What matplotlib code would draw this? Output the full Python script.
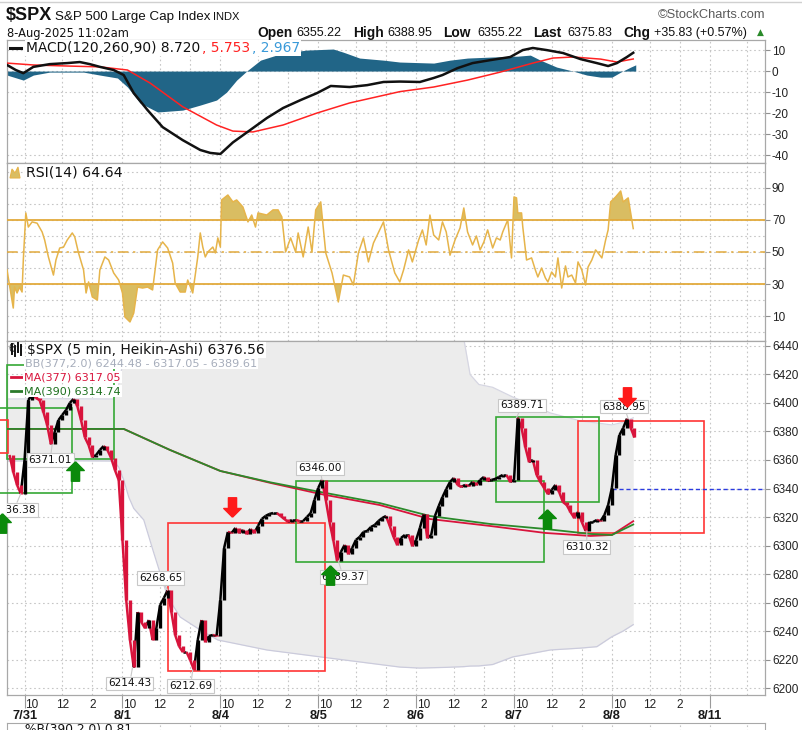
import matplotlib
matplotlib.use("Agg")
import matplotlib.pyplot as plt
from matplotlib.collections import LineCollection
from matplotlib.patches import Rectangle, Polygon
from matplotlib.lines import Line2D
import matplotlib.transforms as mtransforms
import numpy as np

plt.rcParams['font.family'] = ['Liberation Sans', 'DejaVu Sans']
plt.rcParams['axes.unicode_minus'] = False

# ---- time axis: 5 min bars, 78 per session, 0 = 7/31 9:30 ----
BARS = 78
day_labels = ["7/31", "8/1", "8/4", "8/5", "8/6", "8/7", "8/8", "8/11"]
hour_labels = ["10", "12", "2"]
hour_bars = [6, 30, 54]
grid_bars = [0, 30, 54]
X_LEFT, X_RIGHT = -14, 590

# ---- Heikin-Ashi closes, sampled every 15 min (3 bars) per session ----
c_0730 = [6363.5, 6351.6, 6342.5, 6336.4]
c_0731 = [6360.0, 6402.1, 6406.0, 6403.5, 6402.0, 6393.7, 6384.6, 6371.0, 6379.6,
          6388.0, 6391.6, 6395.0, 6400.0, 6402.8, 6397.9, 6388.0, 6376.0, 6370.5,
          6362.0, 6363.5, 6367.0, 6369.8, 6367.0, 6361.4, 6353.0, 6346.0]
c_0801 = [6303.9, 6261.8, 6233.7, 6214.4, 6253.3, 6246.3, 6242.0, 6247.7, 6233.7,
          6242.0, 6258.2, 6263.2, 6268.6, 6253.3, 6237.2, 6229.5, 6225.3, 6225.3,
          6219.6, 6212.7, 6233.7, 6247.7, 6232.3, 6236.5, 6237.2, 6236.5]
c_0804 = [6261.8, 6298.2, 6309.5, 6308.8, 6312.3, 6308.8, 6310.9, 6308.1, 6311.6,
          6308.8, 6313.7, 6318.6, 6320.7, 6322.1, 6322.8, 6322.8, 6320.7, 6318.6,
          6316.5, 6317.9, 6317.9, 6317.2, 6317.2, 6320.0, 6322.8, 6332.0]
c_0805 = [6340.4, 6346.0, 6332.0, 6316.5, 6303.9, 6289.4, 6295.4, 6300.4, 6294.0,
          6298.2, 6303.9, 6306.0, 6309.5, 6310.2, 6313.0, 6314.4, 6317.2, 6319.3,
          6320.7, 6313.7, 6306.0, 6300.4, 6305.3, 6307.4, 6307.4, 6299.6]
c_0806 = [6303.9, 6312.3, 6322.1, 6305.3, 6307.4, 6320.7, 6327.7, 6334.0, 6339.6,
          6344.6, 6347.4, 6342.5, 6341.1, 6342.5, 6341.8, 6344.6, 6342.5, 6346.0,
          6348.1, 6345.3, 6346.0, 6346.7, 6348.1, 6349.5, 6349.5, 6344.6]
c_0807 = [6346.0, 6389.7, 6382.5, 6369.1, 6358.6, 6360.0, 6349.5, 6344.6, 6340.4,
          6336.1, 6339.0, 6342.5, 6337.5, 6330.5, 6328.4, 6323.5, 6319.3, 6323.5,
          6316.5, 6310.3, 6316.5, 6316.5, 6317.9, 6317.2, 6321.4, 6328.4]
c_0808 = [6340.4, 6363.5, 6377.5, 6382.5, 6389.0, 6382.5, 6375.8]
session_day = [-1, 0, 1, 2, 3, 4, 5, 6]
session_first_slot = [22, 0, 0, 0, 0, 0, 0, 0]

# ---- moving averages ----
ma_x = [-14, 28, 79, 116, 156, 196, 236, 283, 323, 371, 415, 451, 468, 485]
ma377 = [6381.8, 6381.8, 6381.8, 6367.0, 6352.3, 6343.9, 6336.1, 6328.4, 6318.6,
         6313.7, 6308.8, 6306.7, 6307.4, 6317.05]
ma390 = [6381.8, 6381.8, 6381.8, 6367.0, 6352.3, 6344.3, 6337.5, 6329.8, 6320.7,
         6315.1, 6311.6, 6308.1, 6307.4, 6314.74]

# ---- Bollinger band (377, 2.0) ----
bb_x = [-14, 28, 71, 75, 79, 83, 87, 95, 103, 114, 124, 140, 154, 193, 236, 299,
        315, 336, 350, 355, 362, 373, 389, 419, 443, 456, 468, 477, 485]
bb_up = [6402.8, 6403.0, 6402.8, 6412.6, 6432.0, 6455.0, 6470.0, 6480.0, 6485.0,
         6490.0, 6490.0, 6490.0, 6490.0, 6490.0, 6490.0, 6490.0, 6490.0, 6480.0,
         6445.0, 6420.0, 6413.0, 6411.0, 6404.2, 6393.0, 6387.4, 6386.0, 6384.6,
         6386.5, 6389.61]
bb_lo = [6359.3, 6359.5, 6359.3, 6355.0, 6346.0, 6334.0, 6326.0, 6317.9, 6294.7,
         6263.9, 6249.8, 6240.7, 6233.7, 6226.7, 6221.8, 6214.7, 6214.0, 6214.5,
         6215.0, 6215.4, 6215.5, 6216.5, 6221.8, 6226.7, 6228.0, 6229.0, 6236.0,
         6240.0, 6244.48]

# ---- MACD(120,260,90) ----
macd_x = [-14, -7, -1, 7, 20, 34, 44, 52, 60, 71, 79, 87, 98, 110, 126, 140, 148,
          156, 166, 180, 193, 206, 220, 233, 244, 259, 273, 286, 299, 315, 326,
          333, 345, 357, 371, 387, 397, 405, 416, 429, 443, 456, 465, 472, 480, 485]
macd_v = [2.9, 0.5, -1.0, 2.0, 3.3, 3.8, 4.3, 3.3, 2.0, 0.5, -1.9, -10.5, -18.6,
          -26.7, -32.9, -37.6, -39.0, -39.5, -34.0, -28.0, -22.4, -17.6, -13.8,
          -10.5, -7.1, -7.6, -6.7, -5.2, -5.0, -5.2, -3.3, -1.9, 1.4, 3.8, 5.2,
          6.7, 10.0, 11.0, 10.0, 8.6, 5.7, 3.8, 2.4, 3.8, 6.7, 8.72]
sig_x = [-14, 7, 34, 60, 82, 100, 126, 153, 166, 182, 206, 233, 259, 299, 326,
         353, 379, 405, 421, 437, 459, 472, 485]
sig_v = [3.8, 2.9, 2.4, 2.0, 0.5, -5.7, -17.0, -25.7, -28.6, -29.0, -25.7, -20.0,
         -15.2, -9.8, -7.6, -4.3, -0.5, 3.8, 6.2, 6.7, 5.7, 4.3, 5.753]
hist_x = [-14, -1, 7, 20, 47, 60, 74, 82, 92, 106, 126, 140, 153, 161, 169, 177,
          188, 206, 225, 246, 254, 267, 286, 299, 326, 339, 353, 373, 393, 403,
          411, 424, 437, 448, 459, 468, 475, 483, 487]
hist_v = [-1.9, -4.3, -1.9, -0.5, -0.5, -1.9, -3.3, -7.6, -15.2, -19.5, -18.6,
          -16.2, -13.8, -10.0, -4.3, 0.0, 5.2, 8.6, 10.0, 10.5, 9.0, 6.2, 5.2, 4.3,
          3.8, 5.2, 6.2, 6.7, 7.1, 7.6, 5.2, 1.9, 0.0, -1.9, -2.9, -2.9, -0.5,
          1.9, 2.967]

# ---- RSI(14) ----
rsi_x = [-14, -11, -9, -8, -6, -4, -2, -1, 1, 3, 6, 10, 14, 16, 19, 23, 25, 28,
         31, 34, 38, 40, 43, 47, 49, 51, 54, 58, 60, 64, 67, 71, 75, 78, 80, 84,
         87, 90, 94, 98, 102, 106, 110, 114, 118, 120, 124, 128, 130, 134, 138,
         140, 142, 144, 146, 150, 152, 154, 156, 157, 162, 166, 169, 174, 178,
         181, 184, 186, 193, 198, 202, 205, 208, 212, 216, 218, 222, 226, 229,
         232, 236, 240, 245, 250, 254, 259, 262, 266, 270, 274, 278, 286, 290,
         295, 299, 302, 306, 309, 314, 317, 320, 323, 326, 330, 333, 336, 339,
         343, 347, 350, 353, 357, 360, 363, 366, 369, 373, 376, 379, 381, 385,
         388, 390, 392, 393, 396, 397, 400, 404, 407, 409, 412, 415, 417, 420,
         423, 425, 428, 431, 433, 436, 439, 441, 444, 447, 449, 452, 455, 457,
         460, 463, 465, 467, 471, 475, 477, 481, 485]
rsi_v = [38.8, 24.4, 15.0, 28.1, 24.4, 28.0, 25.0, 45.0, 74.4, 65.6, 68.8, 68.0,
         62.5, 57.5, 46.9, 35.6, 45.0, 52.5, 53.0, 57.5, 61.9, 59.4, 49.4, 38.8,
         24.4, 31.3, 21.9, 20.0, 38.8, 46.9, 45.0, 36.9, 32.5, 24.4, 9.4, 6.3,
         11.9, 28.1, 27.5, 28.1, 26.3, 51.3, 56.3, 52.5, 43.1, 30.6, 25.0, 25.0,
         32.5, 24.4, 46.9, 61.9, 53.1, 46.9, 50.0, 53.1, 49.4, 58.8, 53.1, 82.5,
         85.6, 81.3, 82.5, 78.1, 68.8, 73.1, 65.6, 74.4, 73.1, 76.3, 76.3, 71.9,
         50.0, 58.8, 50.0, 61.9, 46.9, 65.6, 50.0, 76.3, 81.3, 49.4, 36.9, 18.8,
         35.6, 34.4, 29.4, 49.4, 58.8, 43.8, 55.6, 68.8, 51.3, 36.9, 31.3, 38.8,
         51.3, 43.8, 57.5, 63.8, 54.4, 73.1, 60.6, 57.5, 68.8, 62.5, 48.0, 57.5,
         65.0, 77.5, 62.5, 54.4, 60.0, 51.3, 56.3, 63.8, 52.5, 58.8, 57.5, 62.5,
         70.0, 46.3, 84.4, 83.8, 74.4, 74.4, 65.6, 45.0, 46.3, 38.8, 34.4, 40.0,
         33.8, 31.3, 37.5, 34.4, 46.3, 27.5, 41.3, 34.4, 35.6, 30.6, 43.8, 38.8,
         29.4, 40.6, 45.0, 51.3, 49.4, 46.3, 57.5, 63.8, 81.3, 84.4, 88.1, 81.3,
         83.8, 64.64]

# ---- chart annotations ----
tag_text = ["6336.38", "6371.01", "6214.43", "6268.65", "6212.69", "6346.00",
            "6289.37", "6389.71", "6310.32", "6388.95"]
tag_x = [-3, 22, 86, 114, 134, 237, 250, 392, 448, 481]
tag_p = [6336.38, 6371.01, 6214.43, 6268.65, 6212.69, 6346.00, 6289.37, 6389.71,
         6310.32, 6388.95]
tag_above = [False, False, False, True, False, True, False, True, False, True]
tag_shift = [-5, -1.5, -2, -5, -1.5, -1.5, 3.5, 4, 0, -3]
buy_x = [-18, 40, 243, 416]
buy_p = [6316.0, 6352.0, 6279.3, 6318.6]
sell_x = [165, 480]
sell_p = [6327.0, 6404.2]
box_x0 = [114, 441, 376, 216, -14, -24, -30]
box_x1 = [239, 541, 458, 414, 71, 38, -13]
box_p0 = [6211.9, 6308.8, 6330.5, 6288.4, 6360.7, 6336.8, 6364.9]
box_p1 = [6315.8, 6387.4, 6390.2, 6345.3, 6426.7, 6396.5, 6388.0]
box_red = [True, True, False, False, False, False, True]
pivot_level = 6340
pivot_from = 6 * BARS

RED = '#d8143c'
GRID = '#c6c6c6'
SPINE = '#a8a8a8'
BOX_G = '#35a835'
BOX_R = '#ff3535'
GOLD = '#e6b44a'
GOLD_FILL = '#d9bd62'

W, H = 803, 730
fig = plt.figure(figsize=(W / 100, H / 100), dpi=100)


def panel(top, bottom):
    return fig.add_axes([7 / W, 1 - bottom / H, (765 - 7) / W, (bottom - top) / H])


ax_macd = panel(40, 163)
ax_rsi = panel(163, 341)
ax_px = panel(341, 695)
ax_pb = panel(723, 762)

vgrid = [d * BARS + g for d in range(-1, 8) for g in grid_bars
         if X_LEFT < d * BARS + g < X_RIGHT]


def style(ax, ylim, yticks, ylabels, ygrid):
    ax.set_xlim(X_LEFT, X_RIGHT)
    ax.set_ylim(*ylim)
    for s in ax.spines.values():
        s.set_color(SPINE)
        s.set_linewidth(0.9)
    ax.yaxis.tick_right()
    ax.set_yticks(yticks)
    ax.set_yticklabels(ylabels)
    ax.tick_params(axis='y', length=3.5, width=0.8, color='#909090', pad=1.5,
                   labelsize=8.5, labelcolor='#222222')
    ax.set_xticks([])
    for g in ygrid:
        ax.axhline(g, color=GRID, lw=0.8, ls=(0, (1.5, 2.5)), zorder=0)
    for g in vgrid:
        ax.axvline(g, color=GRID, lw=0.8, ls=(0, (1.5, 2.5)), zorder=0)


# ---- MACD panel ----
style(ax_macd, (-43.8, 14.8), [10, 0, -10, -20, -30, -40],
      ["10", "0", "-10", "-20", "-30", "-40"], range(-40, 20, 10))
ax_macd.fill_between(hist_x, 0, hist_v, color='#216587', lw=0, zorder=2)
ax_macd.plot(sig_x, sig_v, color='#ff2222', lw=1.1, zorder=3)
ax_macd.plot(macd_x, macd_v, color='#111111', lw=1.8, zorder=4)

# ---- RSI panel ----
style(ax_rsi, (-5.6, 105.6), [90, 70, 50, 30, 10],
      ["90", "70", "50", "30", "10"], range(0, 110, 10))
r = np.array(rsi_v)
ax_rsi.fill_between(rsi_x, r, 70, where=r >= 70, interpolate=True,
                    color=GOLD_FILL, lw=0, zorder=2)
ax_rsi.fill_between(rsi_x, r, 30, where=r <= 30, interpolate=True,
                    color=GOLD_FILL, lw=0, zorder=2)
ax_rsi.axhline(70, color='#e2aa3c', lw=1.3, zorder=3)
ax_rsi.axhline(30, color='#e2aa3c', lw=1.3, zorder=3)
ax_rsi.axhline(50, color='#e2aa3c', lw=1.1, ls=(0, (7, 3, 1.5, 3)), zorder=3)
ax_rsi.plot(rsi_x, rsi_v, color=GOLD, lw=1.1, zorder=4)

# ---- price panel ----
style(ax_px, (6195.1, 6443.5), list(range(6200, 6460, 20)),
      [str(v) for v in range(6200, 6460, 20)], range(6200, 6460, 20))
ax_px.fill_between(bb_x, bb_lo, bb_up, color='#ececec', lw=0, zorder=1)
ax_px.plot(bb_x, bb_lo, color='#cbcbdc', lw=0.9, zorder=1.5)
ax_px.plot(bb_x, bb_up, color='#d6d6e2', lw=0.9, zorder=1.5)

for x0, x1, p0, p1, red in zip(box_x0, box_x1, box_p0, box_p1, box_red):
    ax_px.add_patch(Rectangle((x0, p0), x1 - x0, p1 - p0, fill=False,
                              ec=BOX_R if red else BOX_G, lw=1.2, zorder=3,
                              clip_on=False))

ax_px.plot(ma_x, ma377, color=RED, lw=1.3, zorder=4)
ax_px.plot(ma_x, ma390, color='#2b8a2b', lw=1.3, zorder=4)
ax_px.hlines(pivot_level, pivot_from, X_RIGHT, colors='#2b3be0', lw=1.0,
             linestyles=(0, (3, 2)), zorder=3)

xs, cs = [], []
for d, first, vals in zip(session_day, session_first_slot,
                          [c_0730, c_0731, c_0801, c_0804, c_0805, c_0806,
                           c_0807, c_0808]):
    for k, v in enumerate(vals):
        xs.append(d * BARS + 3 * (first + k))
        cs.append(v)
xs = np.array(xs, dtype=float)
cs = np.array(cs)
cols = np.where(cs[1:] >= cs[:-1], '#000000', RED)
segs = [[(xs[i], cs[i]), (xs[i + 1], cs[i + 1])] for i in range(len(xs) - 1)]
ax_px.add_collection(LineCollection(segs, colors=cols, linewidths=1.8, zorder=5))
ax_px.vlines(xs[1:], cs[:-1], cs[1:], colors=cols, lw=2.4, zorder=5)

for t, x, p, above, dx in zip(tag_text, tag_x, tag_p, tag_above, tag_shift):
    ax_px.annotate(t, (x, p), xytext=(dx, 8.8 if above else -11.5),
                   textcoords='offset points', ha='center', va='center',
                   fontsize=7.6, family='DejaVu Sans', color='#111111',
                   bbox=dict(boxstyle='square,pad=0.18', fc='white',
                             ec='#c8c8c8', lw=0.8),
                   arrowprops=dict(arrowstyle='-', color='#c8c8c8', lw=0.8,
                                   shrinkA=0, shrinkB=0),
                   zorder=8, annotation_clip=False, clip_on=True)

UP = [(0, 1), (0.9, 0.1), (0.42, 0.1), (0.42, -1), (-0.42, -1), (-0.42, 0.1),
      (-0.9, 0.1), (0, 1)]
DOWN = [(x, -y) for x, y in UP]
ax_px.plot(buy_x, buy_p, ls='none', marker=UP, ms=14, color='#0b8a0b',
           zorder=9, clip_on=False)
ax_px.plot(sell_x, sell_p, ls='none', marker=DOWN, ms=14, color='#ff1a1a',
           zorder=9, clip_on=False)

# x axis: session opens, hour labels, dates
ax_px.set_xticks([d * BARS for d in range(0, 8)])
ax_px.set_xticklabels([])
ax_px.tick_params(axis='x', which='major', length=9, width=0.8, color='#9a9a9a')
ax_px.set_xticks([d * BARS + h for d in range(0, 7) for h in hour_bars], minor=True)
ax_px.set_xticklabels(hour_labels * 7, minor=True)
ax_px.tick_params(axis='x', which='minor', length=0, pad=3, labelsize=8.5,
                  labelcolor='#222222')
trans = mtransforms.blended_transform_factory(ax_px.transData, ax_px.transAxes)
for d, lab in enumerate(day_labels):
    ax_px.text(d * BARS, -21 / 354, lab, transform=trans, ha='center',
               va='center', fontsize=9.3, fontweight='bold', color='#1a1a1a')

# partial %B panel at the bottom edge
ax_pb.set_xlim(X_LEFT, X_RIGHT)
ax_pb.set_xticks([])
ax_pb.set_yticks([])
for s in ax_pb.spines.values():
    s.set_color(SPINE)
for g in vgrid:
    ax_pb.axvline(g, color=GRID, lw=0.8, ls=(0, (1.5, 2.5)), zorder=0)


# ---- legends and header (figure pixel positions) ----
def ftext(px, py, s, **kw):
    kw.setdefault('va', 'center')
    return fig.text(px / W, 1 - py / H, s, **kw)


def fline(x0, x1, y, color, lw):
    fig.add_artist(Line2D([x0 / W, x1 / W], [1 - y / H, 1 - y / H],
                          color=color, lw=lw, transform=fig.transFigure,
                          zorder=20))


WB = dict(boxstyle='square,pad=0.1', fc='white', ec='none')

fline(0, W, 2, '#d0d0d0', 1.0)
ftext(6, 16, "$SPX", fontsize=13, fontweight='bold', color='#111111')
ftext(55, 17, "S&P 500 Large Cap Index", fontsize=9.6, color='#111111')
ftext(213, 17, "INDX", fontsize=8, color='#111111')
ftext(765, 15, "\u00a9StockCharts.com", fontsize=9.3, color='#5a5a5a', ha='right')
ftext(7, 33, "8-Aug-2025 11:02am", fontsize=8.3, family='DejaVu Sans',
      color='#111111')
for px, s, bold in [(257, "Open", True), (296, "6355.22", False),
                    (353, "High", True), (387, "6388.95", False),
                    (443, "Low", True), (477, "6355.22", False),
                    (533, "Last", True), (567, "6375.83", False),
                    (623, "Chg", True), (654, "+35.83 (+0.57%)", False)]:
    ftext(px, 33, s, fontsize=9.9 if bold else 9.0,
          fontweight='bold' if bold else 'normal', color='#111111')
ftext(757, 32, "\u25b2", fontsize=6.5, family='DejaVu Sans', color='#2a8a2a')

# MACD legend
fline(10, 21, 48, '#111111', 2.2)
ftext(26, 48, "MACD(120,260,90) 8.720", fontsize=9.9, family='DejaVu Sans',
      color='#111111', bbox=WB, zorder=21)
ftext(202, 48, ", 5.753", fontsize=9.9, family='DejaVu Sans', color='#ff2222',
      bbox=WB, zorder=21)
ftext(252, 48, ", 2.967", fontsize=9.9, family='DejaVu Sans', color='#3a9ad9',
      bbox=WB, zorder=21)

# RSI legend
fig.add_artist(Polygon([(10 / W, 1 - 178 / H), (12 / W, 1 - 169 / H),
                        (15 / W, 1 - 173 / H), (18 / W, 1 - 167 / H),
                        (20 / W, 1 - 178 / H)], closed=True, fc=GOLD_FILL,
                       ec=GOLD, lw=0.8, transform=fig.transFigure, zorder=20))
ftext(26, 173, "RSI(14) 64.64", fontsize=10.2, family='DejaVu Sans',
      color='#111111', bbox=WB, zorder=21)

# price legend
ftext(8, 349, "6", fontsize=8.5, color='#333333')
for px, y0, y1 in [(12, 344, 354), (15, 346, 356), (18, 343, 352), (21, 345, 355)]:
    fig.add_artist(Line2D([px / W, px / W], [1 - y0 / H, 1 - y1 / H],
                          color='#111111', lw=1.4, transform=fig.transFigure,
                          zorder=22))
ftext(27, 350, "$SPX (5 min, Heikin-Ashi) 6376.56", fontsize=10.0,
      family='DejaVu Sans', color='#111111', bbox=WB, zorder=21)
ftext(25, 363, "BB(377,2.0) 6244.48 - 6317.05 - 6389.61", fontsize=8.1,
      family='DejaVu Sans', color='#a6adbb', bbox=WB, zorder=21)
fline(11, 22, 377, RED, 2.0)
ftext(24, 377, "MA(377) 6317.05", fontsize=8.0, family='DejaVu Sans',
      color=RED, bbox=WB, zorder=21)
fline(11, 22, 391, '#2b7a2b', 2.0)
ftext(24, 391, "MA(390) 6314.74", fontsize=8.0, family='DejaVu Sans',
      color='#1e701e', bbox=WB, zorder=21)

ftext(25, 730, "%B(390,2.0) 0.81", fontsize=8.8, family='DejaVu Sans',
      color='#111111')

fig.savefig("out.png", dpi=100, facecolor='white')
